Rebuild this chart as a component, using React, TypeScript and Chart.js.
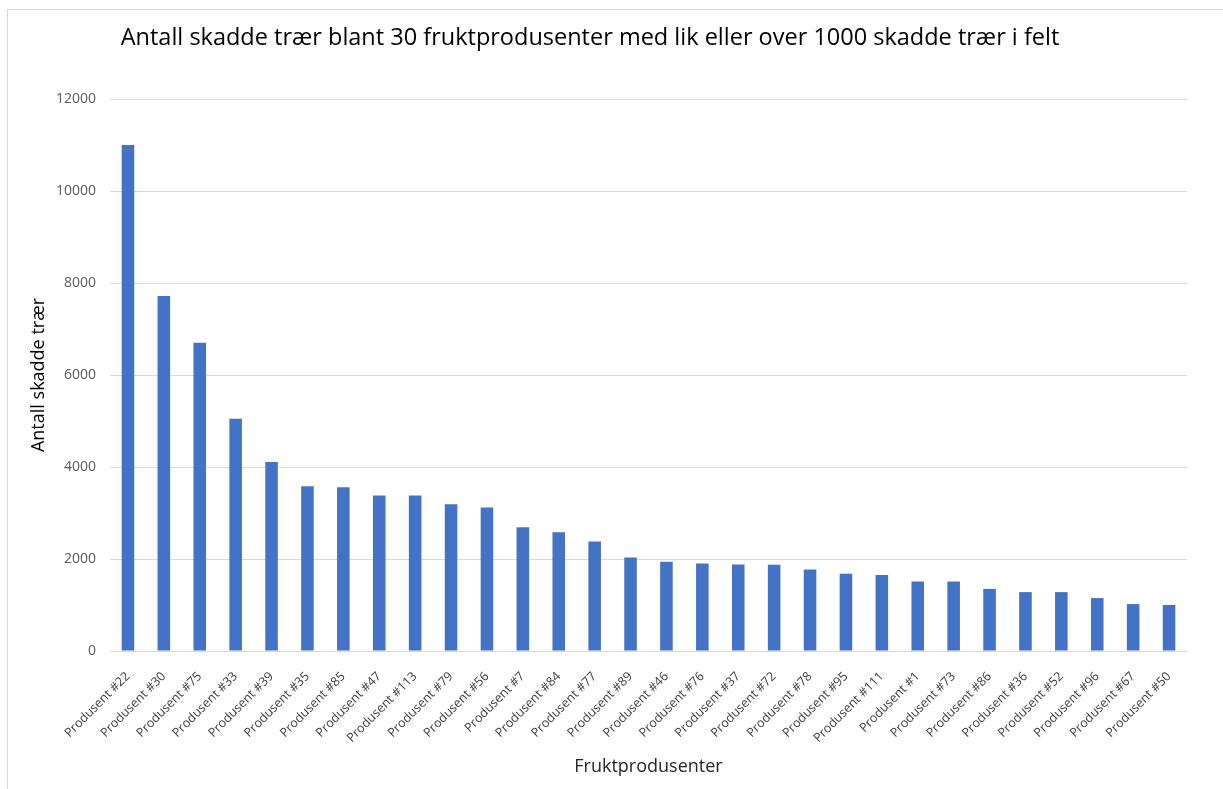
import React, { useEffect, useRef } from "react";
import { Chart, registerables } from "chart.js";

Chart.register(...registerables);

const TITLE = "Antall skadde trær blant 30 fruktprodusenter med lik eller over 1000 skadde trær i felt";
const Y_TITLE = "Antall skadde trær";
const X_TITLE = "Fruktprodusenter";

const producers = [
  "Produsent #22", "Produsent #30", "Produsent #75", "Produsent #33", "Produsent #39",
  "Produsent #35", "Produsent #85", "Produsent #47", "Produsent #113", "Produsent #79",
  "Produsent #56", "Produsent #7", "Produsent #84", "Produsent #77", "Produsent #89",
  "Produsent #46", "Produsent #76", "Produsent #37", "Produsent #72", "Produsent #78",
  "Produsent #95", "Produsent #111", "Produsent #1", "Produsent #73", "Produsent #86",
  "Produsent #36", "Produsent #52", "Produsent #96", "Produsent #67", "Produsent #50",
];

const damagedTrees = [
  11000, 7720, 6700, 5050, 4110,
  3580, 3560, 3380, 3380, 3190,
  3120, 2690, 2580, 2380, 2030,
  1940, 1900, 1880, 1875, 1770,
  1680, 1650, 1510, 1510, 1350,
  1280, 1280, 1150, 1020, 1000,
];

const yTicks = [0, 2000, 4000, 6000, 8000, 10000, 12000];

const FONT = "'Open Sans', 'Noto Sans', sans-serif";

export default function App() {
  const ref = useRef<HTMLCanvasElement | null>(null);

  useEffect(() => {
    if (!ref.current) return;
    const titlePlugin = {
      id: "customTitle",
      afterDraw(chart: any) {
        const ctx = chart.ctx;
        ctx.save();
        ctx.font = `23.5px ${FONT}`;
        ctx.fillStyle = "#000000";
        ctx.textAlign = "center";
        ctx.textBaseline = "middle";
        ctx.fillText(TITLE, 590, 38);
        ctx.restore();
      },
    };
    const chart = new Chart(ref.current, {
      type: "bar",
      data: {
        labels: producers,
        datasets: [
          {
            data: damagedTrees,
            backgroundColor: "#4472C4",
            borderWidth: 0,
            barPercentage: 0.35,
            categoryPercentage: 1,
          },
        ],
      },
      plugins: [titlePlugin],
      options: {
        animation: false,
        responsive: false,
        maintainAspectRatio: false,
        layout: { padding: { top: 99, right: 36, bottom: 10, left: 20 } },
        plugins: {
          legend: { display: false },
          tooltip: { enabled: false },
          title: { display: false },
        },
        scales: {
          x: {
            grid: { display: false, drawTicks: false },
            border: { display: true, color: "#d9d9d9", width: 1 },
            ticks: {
              minRotation: 45,
              maxRotation: 45,
              autoSkip: false,
              padding: 18,
              color: "#404040",
              font: { family: FONT, size: 12.5 },
            },
            title: {
              display: true,
              text: X_TITLE,
              color: "#262626",
              font: { family: FONT, size: 18 },
              padding: { top: 4, bottom: 1 },
            },
            afterFit(scale: any) {
              scale.height = 128;
            },
          },
          y: {
            min: 0,
            max: 12000,
            afterBuildTicks(scale: any) {
              scale.ticks = yTicks.map((v) => ({ value: v }));
            },
            grid: { color: "#d9d9d9", drawTicks: false },
            border: { display: false },
            ticks: {
              padding: 14,
              color: "#595959",
              font: { family: FONT, size: 14 },
              callback: (v: any) => String(v),
            },
            title: {
              display: true,
              text: Y_TITLE,
              color: "#000000",
              font: { family: FONT, size: 18 },
              padding: { top: 8, bottom: 0 },
            },
            afterFit(scale: any) {
              scale.width = 90;
            },
          },
        },
      },
    });
    return () => chart.destroy();
  }, []);

  return (
    <div
      style={{
        position: "fixed",
        left: 0,
        top: 0,
        width: 1223,
        height: 789,
        overflow: "hidden",
        background: "#ffffff",
      }}
    >
      <div
        style={{
          position: "absolute",
          left: 7,
          top: 9,
          width: 1260,
          height: 820,
          border: "1px solid #d9d9d9",
          boxSizing: "border-box",
        }}
      />
      <canvas
        ref={ref}
        width={1223}
        height={789}
        style={{ position: "absolute", left: 0, top: 0, width: 1223, height: 789 }}
      />
    </div>
  );
}
